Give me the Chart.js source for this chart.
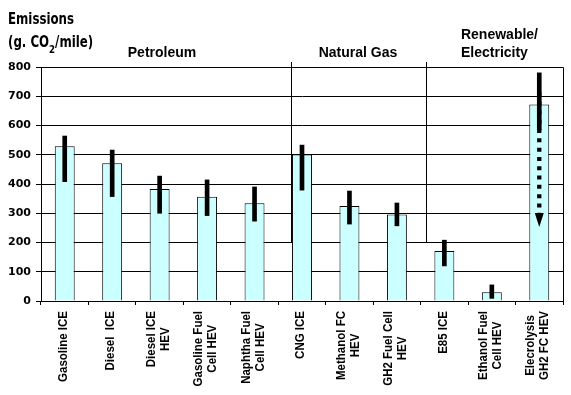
<!DOCTYPE html>
<html>
<head>
<meta charset="utf-8">
<script src="https://cdn.jsdelivr.net/npm/chart.js@4"></script>
<style>
  html, body { margin: 0; padding: 0; background: #fff; }
  #wrap { width: 571px; height: 395px; position: relative; }
</style>
</head>
<body>
<div id="wrap"><canvas id="chart"></canvas></div>
<script>
// data
const categories = [
  ['Gasoline ICE'],
  ['Diesel  ICE'],
  ['Diesel ICE', 'HEV'],
  ['Gasoline Fuel', 'Cell HEV'],
  ['Naphtha Fuel', 'Cell HEV'],
  ['CNG ICE'],
  ['Methanol FC', 'HEV'],
  ['GH2 Fuel Cell', 'HEV'],
  ['E85 ICE'],
  ['Ethanol Fuel', 'Cell HEV'],
  ['Elecrolysis', 'GH2 FC HEV']
];
const emissions = [529, 471, 383, 356, 334, 501, 325, 296, 171, 30, 672];
const rangeLow  = [408, 357, 300, 292, 273, 379, 263, 257, 120, 9, 585];
const rangeHigh = [564, 516, 427, 414, 390, 533, 376, 335, 208, 55, 780];
const groupNames = [['Petroleum'], ['Natural Gas'], ['Renewable/', 'Electricity']];
const dividerFloor = 200;          // group dividers stop at this value
const arrowFrom = 715, arrowTo = 253; // dotted arrow on the electrolysis bar
const arrowIndex = 10;

const ARIAL = 'Arial, "Liberation Sans", sans-serif';
const NARROW = '"Liberation Sans Narrow", "DejaVu Sans Condensed", "Arial Narrow", sans-serif';

const errorData = rangeLow.map((lo, i) => [lo, rangeHigh[i]]);

// titles, group labels, dividers, frame, category labels and the arrow
const extras = {
  id: 'extras',
  afterDatasetsDraw(chart) {
    const { ctx, chartArea: a, scales: { x, y } } = chart;
    const al = v => Math.floor(v) + 0.5;
    ctx.save();
    ctx.strokeStyle = '#000';
    ctx.lineWidth = 1;
    // right and top frame
    ctx.beginPath();
    ctx.moveTo(al(a.left), al(a.top));
    ctx.lineTo(al(a.right), al(a.top));
    ctx.lineTo(al(a.right), al(a.bottom));
    ctx.stroke();
    // group dividers
    [4.77, 7.63].forEach(p => {
      const px = al(x.getPixelForValue(p));
      ctx.beginPath();
      ctx.moveTo(px, a.top - 5);
      ctx.lineTo(px, al(y.getPixelForValue(dividerFloor)));
      ctx.stroke();
    });
    // dotted arrow
    const ax = x.getPixelForValue(arrowIndex);
    const tip = y.getPixelForValue(arrowTo);
    ctx.setLineDash([4, 5.3]);
    ctx.lineWidth = 4.3;
    ctx.beginPath();
    ctx.moveTo(ax, y.getPixelForValue(arrowFrom));
    ctx.lineTo(ax, tip - 13);
    ctx.stroke();
    ctx.setLineDash([]);
    ctx.fillStyle = '#000';
    ctx.beginPath();
    ctx.moveTo(ax - 4.5, tip - 14);
    ctx.lineTo(ax + 4.5, tip - 14);
    ctx.lineTo(ax, tip);
    ctx.closePath();
    ctx.fill();
    ctx.restore();
  },
  afterDraw(chart) {
    const { ctx, chartArea: a, scales: { x } } = chart;
    ctx.save();
    ctx.fillStyle = '#000';

    // category labels, rotated, lines centred
    ctx.font = 'bold 11.5px ' + ARIAL;
    ctx.textAlign = 'center';
    ctx.textBaseline = 'middle';
    const top = a.bottom + 10;
    categories.forEach((lines, i) => {
      const cx = x.getPixelForValue(i) - 1.5;
      const w = Math.max(...lines.map(t => ctx.measureText(t).width));
      lines.forEach((t, k) => {
        ctx.save();
        ctx.translate(cx + (k - (lines.length - 1) / 2) * 14, top);
        ctx.rotate(-Math.PI / 2);
        ctx.scale(1, 1.15);
        ctx.fillText(t, -w / 2, 0);
        ctx.restore();
      });
    });

    // group headings
    ctx.font = 'bold 14px ' + ARIAL;
    ctx.textBaseline = 'alphabetic';
    ctx.textAlign = 'center';
    ctx.fillText(groupNames[0][0], x.getPixelForValue(2.05), 56.5);
    ctx.fillText(groupNames[1][0], x.getPixelForValue(6.18), 56.5);
    ctx.textAlign = 'left';
    ctx.fillText(groupNames[2][0], x.getPixelForValue(8.35), 38.5);
    ctx.fillText(groupNames[2][1], x.getPixelForValue(8.35), 56.5);

    // axis title, condensed
    ctx.font = 'bold 15px ' + NARROW;
    const sx = 66 / ctx.measureText('Emissions').width;
    ctx.save();
    ctx.translate(8, 0);
    ctx.scale(sx, 1);
    ctx.fillText('Emissions', 0, 23.5);
    let px = 0;
    ctx.fillText('(g. CO', px, 46.5);
    px += ctx.measureText('(g. CO').width;
    ctx.font = 'bold 11px ' + NARROW;
    ctx.fillText('2', px, 53);
    px += ctx.measureText('2').width;
    ctx.font = 'bold 15px ' + NARROW;
    ctx.fillText('/mile)', px, 46.5);
    ctx.restore();
    ctx.restore();
  }
};

new Chart(document.getElementById('chart'), {
  type: 'bar',
  data: {
    labels: categories.map(l => l.join(' ')),
    datasets: [
      {
        label: 'range',
        data: errorData,
        backgroundColor: '#000',
        borderWidth: 0,
        barThickness: 4,
        grouped: false,
        order: 0
      },
      {
        label: 'Emissions',
        data: emissions,
        backgroundColor: '#CCFFFF',
        borderColor: '#000',
        borderWidth: 1,
        borderSkipped: 'bottom',
        categoryPercentage: 1,
        barPercentage: 0.42,
        grouped: false,
        order: 1
      }
    ]
  },
  options: {
    responsive: true,
    maintainAspectRatio: false,
    animation: false,
    layout: { padding: { top: 67, right: 8, left: 0, bottom: 0 } },
    plugins: { legend: { display: false }, tooltip: { enabled: false } },
    scales: {
      x: {
        offset: true,
        grid: { display: true, drawOnChartArea: false, drawTicks: true, tickLength: 4, color: '#000', offset: true },
        border: { color: '#000', width: 1 },
        ticks: { display: false },
        afterFit: s => { s.height = 94; }
      },
      y: {
        min: 0,
        max: 800,
        ticks: {
          stepSize: 100,
          color: '#000',
          padding: 5,
          font: { family: '"DejaVu Sans"', size: 11, weight: 'bold' }
        },
        grid: { color: '#000', tickLength: 5, drawTicks: true },
        border: { color: '#000', width: 1 },
        afterFit: s => { s.width = 41; }
      }
    }
  },
  plugins: [extras]
});
</script>
</body>
</html>
